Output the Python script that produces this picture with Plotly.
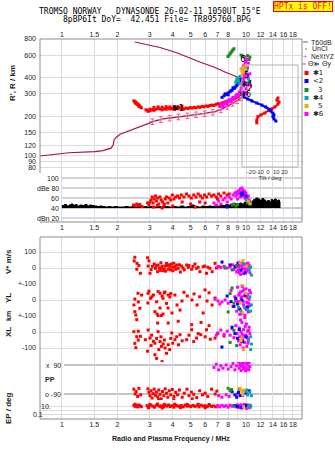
import numpy as np
import plotly.graph_objects as go

# ---------------- data ----------------
freq_ticks = [1, 1.5, 2, 3, 4, 5, 6, 7, 8, 9, 10, 12, 14, 16, 18]
freq_labels_outer = ["1", "1.5", "2", "3", "4", "5", "6", "7", "8", "", "10", "12", "14", "16", "18"]
freq_labels_mid = ["1", "1.5", "2", "3", "4", "5", "6", "7", "8", "9", "10", "12", "14", "16", "18"]
height_ticks = [80, 90, 100, 120, 150, 200, 300, 400, 600, 800]

# true-height profile (MHz, km): bottomside then topside
profile = [[0.76, 99], [1.09, 105], [1.51, 107], [1.67, 109], [1.85, 114], [1.90, 121], [1.92, 132],
           [1.97, 138], [2.07, 146], [2.20, 151], [2.43, 159], [2.82, 172], [3.24, 186], [3.63, 193],
           [4.11, 197], [4.66, 202], [5.28, 206], [5.99, 212], [6.79, 219], [7.41, 229], [7.98, 242],
           [8.51, 255], [9.06, 269], [9.52, 284], [9.89, 300], [10.27, 316], [10.6, 331], [10.7, 340],
           [10.64, 352], [10.27, 365], [9.40, 388], [8.72, 413], [7.69, 444], [6.79, 481], [5.62, 531],
           [4.96, 570], [4.20, 626], [3.41, 687], [2.49, 758]]
nextyz = [[3.1, 183], [3.45, 190], [3.85, 195], [4.3, 199], [4.8, 203], [5.35, 207], [5.95, 211],
          [6.6, 217], [7.3, 226], [7.9, 240], [8.45, 254], [8.95, 266], [9.4, 280]]

top_red = [[2.46, 265], [2.49, 262], [2.52, 258], [2.55, 254], [2.58, 250], [2.61, 246], [2.64, 242],
           [2.67, 238], [2.70, 234], [2.50, 255], [2.56, 248], [2.62, 240],
           [2.86, 226], [2.93, 224], [3.01, 222], [3.09, 226], [3.16, 224], [3.24, 228], [3.33, 232],
           [3.41, 229], [3.50, 226], [3.59, 230], [3.68, 228], [3.77, 233], [3.86, 229], [3.96, 231],
           [4.06, 228], [4.16, 232], [4.27, 230], [4.38, 234], [4.49, 231], [4.60, 229], [4.72, 233],
           [4.84, 231], [4.96, 235], [5.09, 233], [5.22, 236], [5.35, 234], [5.49, 238], [5.62, 236],
           [5.77, 240], [5.91, 238], [6.07, 242], [6.22, 240], [6.37, 244], [6.54, 246], [6.70, 244],
           [6.87, 249], [7.05, 252], [7.22, 250], [7.41, 255], [7.60, 258], [7.79, 262], [7.98, 265],
           [8.19, 268], [8.40, 272], [8.61, 276], [8.83, 281], [9.06, 286],
           [3.16, 236], [3.33, 238], [3.50, 237], [3.68, 239], [3.86, 238], [4.06, 240], [4.27, 239],
           [4.49, 241], [2.93, 220], [3.01, 228]]
top_blue = [[7.41, 282], [7.60, 290], [7.79, 298], [7.98, 305], [8.19, 312], [8.40, 320], [8.61, 330],
            [8.83, 345], [9.06, 360], [9.28, 380], [9.40, 400], [8.0, 295], [8.3, 318], [8.7, 335],
            [8.95, 352], [9.15, 372], [7.7, 300], [8.5, 335]]
top_mag = [[7.2, 240], [7.4, 245], [7.6, 250], [7.8, 256], [8.0, 262], [8.2, 268], [8.4, 274], [8.6, 282],
           [8.8, 290], [9.0, 298], [9.2, 308], [9.4, 318], [7.3, 250], [7.7, 258], [8.1, 270], [8.5, 282],
           [8.9, 296], [9.3, 312], [7.5, 238], [7.9, 250], [8.3, 262], [8.7, 276], [9.1, 290],
           [9.5, 340], [9.6, 360], [9.7, 380], [9.8, 400], [9.9, 420], [10.0, 440], [10.1, 460],
           [10.2, 480], [9.7, 500], [9.9, 520], [10.0, 540], [10.1, 560], [9.8, 580], [9.6, 420],
           [9.5, 390], [10.3, 400], [10.4, 370], [10.2, 350], [10.0, 330], [9.8, 310], [10.5, 430],
           [9.9, 470], [10.3, 520], [9.6, 470], [9.4, 330], [10.1, 300], [10.2, 420], [9.7, 440]]
top_teal = [[8.8, 370], [8.9, 385], [9.0, 400], [9.1, 380], [9.3, 410], [10.0, 450], [10.1, 470],
            [10.3, 395], [10.4, 375], [9.2, 360]]
top_orange = [[9.4, 470], [9.5, 450], [9.6, 480], [9.7, 440], [9.9, 470], [10.0, 500], [9.5, 420], [9.8, 455]]
top_green = [[7.98, 585], [8.1, 600], [8.2, 615], [8.3, 630], [8.4, 645], [8.5, 660], [8.6, 672],
             [9.4, 600], [9.6, 590], [10.2, 595], [10.5, 580], [10.4, 555]]
trace_labels = [[4.27, 231, "✱1"], [10.07, 410, "5"], [10.07, 352, "✱4"], [9.89, 294, "✱6"], [9.6, 550, "6"]]

# tilt inset (deg, km)
theta_x = [[-13.3, 179], [-13.3, 188], [-12, 200], [-8.4, 206], [-3.6, 213], [1.2, 223], [4.8, 229],
           [8.4, 238], [12, 250], [13.3, 260], [10.8, 269], [12, 279]]
theta_y = [[-28.9, 284], [-24.1, 274], [-19.3, 265], [-13.3, 255], [-7.2, 246], [-2.4, 238], [1.2, 229],
           [3.6, 221], [6, 213], [7.2, 206], [6, 200], [7.2, 192], [9.6, 185]]

# amplitude panel (MHz, dB)
noise = [[1.00, 45], [1.03, 47], [1.06, 44], [1.09, 46], [1.12, 48], [1.15, 45], [1.18, 47], [1.21, 44],
         [1.25, 46], [1.29, 45], [1.33, 47], [1.37, 44], [1.41, 46], [1.45, 45], [1.50, 44], [1.55, 43],
         [1.60, 44], [1.66, 43], [1.72, 42], [1.78, 43], [1.85, 42], [1.92, 43], [2.0, 42], [2.1, 42],
         [2.2, 43], [2.3, 42], [2.4, 43], [2.5, 42], [2.6, 43], [2.7, 42], [2.8, 43], [2.9, 42],
         [3.0, 43], [3.15, 42], [3.3, 43], [3.45, 42], [3.6, 43], [3.8, 42], [4.0, 43], [4.2, 42],
         [4.4, 44], [4.6, 42], [4.8, 43], [5.0, 46], [5.25, 43], [5.5, 42], [5.75, 44], [6.0, 43],
         [6.25, 44], [6.5, 43], [6.75, 45], [7.0, 44], [7.25, 46], [7.5, 45], [7.75, 47], [8.0, 46],
         [8.25, 48], [8.5, 47], [8.75, 49], [9.0, 48], [9.25, 50], [9.5, 48], [9.75, 51], [10.0, 50],
         [10.25, 52], [10.5, 50], [10.75, 54], [11.0, 57], [11.3, 60], [11.6, 58], [11.9, 55],
         [12.2, 59], [12.5, 56], [12.8, 53], [13.1, 55], [13.4, 52], [13.7, 57], [14.0, 55],
         [14.3, 58], [14.6, 54], [14.9, 56], [15.2, 53], [15.3, 40]]
db_red = [[2.45, 46], [2.5, 44], [2.55, 48], [2.6, 45], [2.65, 47], [2.72, 43], [2.92, 50], [2.97, 47],
          [3.01, 52], [3.05, 56], [3.09, 62], [3.13, 50], [3.17, 58], [3.22, 64], [3.26, 54], [3.31, 60],
          [3.36, 48], [3.41, 62], [3.46, 56], [3.52, 52], [3.58, 44], [3.64, 58], [3.70, 62], [3.76, 50],
          [3.83, 60], [3.90, 56], [3.98, 66], [4.06, 58], [4.15, 62], [4.25, 64], [4.35, 60], [4.45, 66],
          [4.6, 62], [4.75, 68], [4.9, 64], [5.05, 60], [5.2, 66], [5.35, 62], [5.5, 68], [5.65, 64],
          [5.8, 60], [5.95, 66], [6.1, 62], [6.3, 68], [6.5, 64], [6.7, 66], [6.9, 62], [7.1, 68],
          [7.3, 64], [7.6, 70], [7.9, 66], [8.1, 68], [3.3, 45], [3.6, 48], [4.0, 44], [4.5, 52],
          [5.0, 48], [5.6, 52], [6.0, 50], [7.0, 58], [3.15, 42], [3.5, 40], [5.3, 42]]
db_mag = [[6.7, 50], [6.9, 46], [7.1, 54], [7.3, 48], [7.5, 56], [7.7, 60], [7.9, 52], [8.1, 62], [8.3, 58],
          [8.5, 66], [8.7, 70], [8.8, 64], [8.9, 72], [9.0, 68], [9.1, 74], [9.2, 70], [9.3, 78], [9.4, 72],
          [9.5, 80], [9.6, 76], [9.7, 70], [9.8, 74], [9.9, 66], [10.0, 70], [10.1, 62], [10.2, 58],
          [10.3, 64], [10.4, 56], [10.5, 52], [9.45, 64], [9.65, 66], [9.85, 60], [9.0, 58], [9.3, 62],
          [10.0, 56]]
db_blue = [[7.9, 42], [9.4, 68], [9.5, 66], [9.6, 70], [10.0, 64], [10.3, 54]]
db_green = [[8.4, 46], [8.6, 48], [8.8, 44], [9.0, 47], [10.2, 50]]
db_teal = [[10.1, 56], [10.4, 52], [10.6, 50]]
db_orange = [[10.3, 54], [10.5, 48]]

# V* (m/s)
vs_red = [[2.49, 67], [2.47, 44], [2.56, 29], [2.62, 15], [2.55, -8], [2.67, -33], [2.92, 64], [2.97, 44],
          [2.94, 12], [3.01, -33], [3.17, 25], [3.22, -2], [3.31, -23], [3.33, 19], [3.45, 33], [3.47, -2],
          [3.54, -17], [3.63, 12], [3.70, 29], [3.78, -8], [3.86, 8], [3.94, 25], [4.01, -17], [4.11, 8],
          [4.20, 19], [4.28, -2], [4.47, 12], [4.62, -12], [4.76, 19], [4.86, 4], [5.07, -8], [5.28, 25],
          [5.39, -2], [5.62, -23], [5.85, 8], [6.10, -33], [6.37, -2], [6.55, -23], [6.79, 29], [3.10, 10],
          [3.25, 15], [3.38, 0], [3.50, 10], [3.60, -8], [3.72, 15], [3.84, 20], [3.90, -12], [4.00, 5],
          [4.15, -8], [4.35, 20], [4.55, 0], [4.90, 15], [5.15, 10], [5.5, 5], [5.95, 12], [6.2, 5],
          [6.9, 0], [7.1, 8], [3.05, -10], [3.42, -15], [3.66, -20], [4.05, 30], [4.4, -25]]
vs_mag = [[7.05, 8], [7.3, 4], [7.6, 10], [7.9, 0], [8.2, 6], [8.45, 20], [8.6, -10], [8.75, 12], [8.9, -25],
          [9.0, 28], [9.1, 5], [9.2, -30], [9.3, 18], [9.4, -15], [9.5, 30], [9.6, 0], [9.7, -35], [9.8, 22],
          [9.9, -8], [10.0, 10], [10.1, -20], [10.2, 26], [10.3, -5], [10.4, 15], [10.5, -30], [9.15, 35],
          [9.35, -40], [9.55, -5], [9.75, 25], [9.95, -22], [10.15, 8], [10.35, -12], [9.05, -15],
          [9.45, 12], [9.85, -28], [10.25, 30]]
vs_blue = [[7.41, 37], [8.19, 19], [8.72, 6], [9.40, -12], [9.89, -31], [9.1, 25]]
vs_orange = [[9.64, 46], [9.28, 31], [10.1, 12]]
vs_teal = [[10.7, -44], [10.4, -12], [9.77, 25], [10.6, 5]]
vs_green = [[7.69, 0], [8.4, -12], [8.9, 15]]

# YL (km)
yl_red = [[2.46, -31], [2.49, -73], [2.52, -94], [2.59, 42], [2.71, 31], [2.65, -52], [2.49, 6], [2.94, 42],
          [3.03, 11], [3.14, 31], [2.93, -19], [3.27, -11], [3.41, 42], [3.54, 11], [3.70, -21], [3.78, 31],
          [3.33, -100], [3.47, -98], [3.20, -73], [3.41, -50], [3.29, -88], [3.54, -88], [3.33, 53],
          [3.50, 25], [3.63, 50], [3.86, 19], [3.96, -81], [3.77, -50], [4.11, 31], [4.22, -31],
          [4.38, -63], [4.49, -6], [5.09, 0], [5.22, 38], [5.42, -31], [5.85, -81], [5.99, 63], [6.14, -6],
          [6.54, -31], [6.79, 12], [2.97, 55], [3.08, 20], [3.60, 45], [3.90, 40], [4.60, 48], [4.8, 25],
          [5.6, 20], [6.3, 45], [2.60, -12]]
yl_mag = [[7.05, -6], [7.4, -12], [7.7, 0], [8.0, -20], [8.3, 60], [8.5, -40], [8.7, 20], [8.9, -70],
          [9.0, 80], [9.1, -10], [9.2, 40], [9.3, -60], [9.4, 10], [9.5, -85], [9.6, 55], [9.7, -30],
          [9.8, 25], [9.9, -50], [10.0, 70], [10.1, -15], [10.2, 35], [10.3, -75], [10.4, 5], [10.5, -35],
          [10.6, 45], [9.25, -90], [9.55, 85], [9.85, -95], [10.05, -60], [9.45, 20], [9.75, 65],
          [10.15, 15], [8.8, -5], [9.15, 30], [10.35, -20], [6.8, 5], [7.2, -25], [9.35, 50], [9.65, -10],
          [9.95, 40], [10.25, -40], [10.45, 60]]
yl_blue = [[7.9, 25], [8.3, -10], [8.6, -40], [8.8, 10], [9.0, -25], [9.2, -55], [9.5, 0], [9.9, 30], [10.2, -45]]
yl_teal = [[9.1, -45], [9.4, -70], [9.8, -45], [10.2, -60], [10.6, -70], [10.7, -30], [10.5, 20]]
yl_green = [[8.4, 75], [8.0, -75], [8.6, -20], [8.2, 40]]
yl_orange = [[9.5, 95], [9.6, -80], [10.0, 40], [9.3, -20]]

# XL (km)
xl_red = [[2.46, 2], [2.55, -29], [2.49, -71], [2.52, -98], [2.60, -50], [2.60, 5], [2.67, -27], [2.84, -48],
          [2.94, 12], [3.01, -38], [3.07, -20], [3.14, -58], [3.27, -40], [3.33, 2], [3.41, -60],
          [3.47, -90], [3.63, -100], [3.78, -80], [3.95, -6], [4.11, -48], [4.38, -17], [4.76, -48],
          [5.07, 14], [5.39, -38], [5.68, -17], [6.10, 14], [6.79, -38], [7.6, -25], [2.92, -120],
          [3.20, -142], [3.27, -165], [3.50, -185], [3.70, -133], [2.55, 77], [3.31, 56], [3.78, 56],
          [4.28, 67], [5.07, 46], [5.7, 60], [6.3, 40], [3.2, -70], [3.36, -110], [3.55, -75], [3.6, -50],
          [3.85, -110], [4.0, -70], [4.2, -30], [4.5, -55], [4.9, -20], [5.2, -60], [6.4, -45],
          [3.05, -85], [3.45, -30], [3.9, -40], [4.3, -80], [5.5, -10], [6.0, -30], [7.0, -10]]
xl_mag = [[7.05, -6], [7.3, 12], [7.6, -15], [7.9, 5], [8.2, -20], [8.4, 20], [8.6, -35], [8.8, 40],
          [8.95, -10], [9.1, -55], [9.2, 25], [9.3, -80], [9.4, 0], [9.5, 60], [9.6, -40], [9.7, 15],
          [9.8, -65], [9.9, 35], [10.0, -20], [10.1, -90], [10.2, 5], [10.3, -45], [10.4, 30], [10.5, -10],
          [9.35, 75], [9.65, -100], [9.85, 90], [10.05, 50], [9.25, -30], [9.55, -15], [10.25, -70],
          [6.9, -20], [9.45, -60], [9.75, -25], [10.15, -35], [10.35, 10]]
xl_blue = [[7.4, -94], [8.4, 30], [8.7, -10], [9.0, -40], [9.2, 15], [9.6, -60], [10.0, -30]]
xl_teal = [[10.6, -30], [10.7, -75], [10.6, -110], [10.3, -55]]
xl_orange = [[9.5, -35], [9.7, -110], [9.4, -55]]
xl_green = [[8.2, -65], [8.6, 10], [8.9, -85]]

# PP (deg)
pp_red = [[2.46, -60], [2.50, -90], [2.53, -75], [2.58, -105], [2.62, -55], [2.68, -95], [2.93, -58],
          [2.97, -80], [3.01, -100], [3.05, -70], [3.09, -115], [3.13, -88], [3.17, -60], [3.22, -98],
          [3.26, -78], [3.31, -108], [3.36, -65], [3.41, -92], [3.46, -120], [3.52, -75], [3.58, -100],
          [3.64, -58], [3.70, -85], [3.76, -110], [3.83, -70], [3.90, -95], [3.98, -62], [4.06, -105],
          [4.15, -80], [4.25, -95], [4.35, -65], [4.5, -110], [4.62, -85], [4.78, -60], [4.9, -100],
          [5.05, -78], [5.2, -92], [5.4, -112], [5.6, -70], [5.8, -95], [6.0, -85], [6.2, -105],
          [6.5, -60], [6.8, -90], [6.95, -72], [4.05, -125], [3.35, -125], [5.1, -120]]
pp_mag = [[6.7, 75], [6.9, 95], [7.1, 60], [7.3, 85], [7.5, 70], [7.8, 90], [8.0, 65], [8.3, 80], [8.5, 100],
          [8.7, 60], [8.9, 85], [9.1, 110], [9.2, 70], [9.3, 95], [9.4, 55], [9.5, 105], [9.6, 80],
          [9.7, 65], [9.8, 100], [9.9, 75], [10.0, 115], [10.1, 60], [10.2, 90], [10.3, 70], [10.4, 105],
          [10.5, 80], [9.45, 85], [9.75, 110], [9.95, 55], [10.15, 100], [10.35, 60], [9.25, 90],
          [7.1, -100], [7.4, -110], [7.8, -95], [8.1, -105], [9.0, -90], [9.6, -100], [10.2, -95]]
pp_blue = [[8.4, -75], [8.7, -95], [8.9, -110], [9.1, -80], [9.3, -100], [10.0, -85], [10.4, -70]]
pp_green = [[8.0, -55], [8.2, -70], [8.35, -62], [9.2, -60]]
pp_orange = [[9.3, -55], [9.5, -75], [9.6, -95], [9.7, -65]]
pp_teal = [[9.9, -75], [10.2, -95], [10.5, -80], [10.7, -100], [10.1, -65]]

# EP (deg)
ep_red = [[2.46, 15], [2.50, 8], [2.54, 12], [2.58, 6], [2.62, 18], [2.66, 10], [2.70, 7], [2.90, 12],
          [2.97, 6], [3.04, 16], [3.11, 9], [3.18, 5], [3.25, 13], [3.32, 20], [3.40, 8], [3.48, 11],
          [3.56, 6], [3.64, 14], [3.72, 9], [3.80, 18], [3.88, 7], [3.97, 12], [4.06, 5], [4.15, 15],
          [4.25, 10], [4.35, 8], [4.45, 13], [4.56, 6], [4.67, 17], [4.78, 9], [4.90, 11], [5.02, 7],
          [5.15, 14], [5.28, 8], [5.42, 12], [5.56, 6], [5.70, 16], [5.85, 9], [6.00, 11], [6.16, 7],
          [6.32, 13], [6.50, 8], [6.68, 10], [6.86, 6], [7.05, 12], [2.5, 28], [3.0, 25], [3.3, 30],
          [3.6, 26], [4.1, 28], [4.8, 25], [5.5, 27], [6.3, 24], [2.95, 3.5], [3.5, 3.2], [4.4, 3.8],
          [6.0, 3.5]]
ep_mag = [[7.0, 10], [7.2, 6], [7.4, 14], [7.6, 8], [7.8, 12], [8.0, 5], [8.2, 16], [8.4, 9], [8.6, 12],
          [8.8, 6], [9.0, 18], [9.1, 4], [9.2, 11], [9.3, 7], [9.4, 20], [9.5, 3], [9.6, 13], [9.7, 8],
          [9.8, 25], [9.9, 5], [10.0, 15], [10.1, 2.5], [10.2, 10], [10.3, 6], [10.4, 14], [10.5, 4],
          [10.6, 9], [9.55, 12], [9.85, 10], [10.15, 18]]
ep_blue = [[9.0, 8], [9.4, 5], [10.0, 12], [8.7, 14]]
ep_teal = [[10.3, 6], [10.6, 10], [10.5, 16]]
ep_green = [[8.6, 10]]
ep_orange = [[9.7, 6]]

# ---------------- styling / layout helpers ----------------
W, H = 335, 451
ML, MR, MT, MB = 40, 33, 39, 32
PW, PH = W - ML - MR, H - MT - MB


def px2x(x):
    return (x - ML) / PW


def px2y(y):
    return (H - MB - y) / PH


RED, BLUE, GREEN, TEAL, ORANGE, MAG = "#ff0000", "#0000ff", "#1e8c1e", "#00a8a8", "#ffa500", "#ff00ff"
PROF, PINK = "#a8123c", "#e8609a"
GRID = "#dcdcdc"
FRAME = "#8c8c8c"
SANS = "Liberation Sans, Arial, sans-serif"
MONO = "DejaVu Sans Mono, Liberation Mono, monospace"
TF = dict(family=SANS, size=7, color="#222222")


def col(pairs, i):
    return [p[i] for p in pairs]


def pts(pairs, color, xa, ya, size=3):
    return go.Scatter(x=col(pairs, 0), y=col(pairs, 1), mode="markers",
                      marker=dict(symbol="square", size=size, color=color, line=dict(width=0)),
                      xaxis=xa, yaxis=ya, hoverinfo="skip", showlegend=False)


fig = go.Figure()

# top (height) panel
fig.add_trace(go.Scatter(x=col(profile, 0), y=col(profile, 1), mode="lines",
                         line=dict(color=PROF, width=1.2), xaxis="x", yaxis="y", showlegend=False))
fig.add_trace(go.Scatter(x=col(nextyz, 0), y=col(nextyz, 1), mode="markers",
                         marker=dict(symbol="line-ew", size=4, color=PINK, line=dict(width=1, color=PINK)),
                         error_y=dict(type="percent", value=5, color=PINK, thickness=1, width=2),
                         xaxis="x", yaxis="y", showlegend=False))
for data, c in [(top_red, RED), (top_mag, MAG), (top_blue, BLUE), (top_green, GREEN),
                (top_teal, TEAL), (top_orange, ORANGE)]:
    fig.add_trace(pts(data, c, "x", "y"))
fig.add_trace(go.Scatter(x=col(trace_labels, 0), y=col(trace_labels, 1), text=col(trace_labels, 2),
                         mode="text", textfont=dict(family="DejaVu Sans, sans-serif", size=8, color="black"),
                         xaxis="x", yaxis="y", showlegend=False, hoverinfo="skip"))

# inset tilt
fig.add_trace(go.Scatter(x=col(theta_x, 0), y=col(theta_x, 1), mode="lines+markers",
                         line=dict(color=RED, width=2), marker=dict(symbol="square", size=3, color=RED),
                         xaxis="x4", yaxis="y8", showlegend=False))
fig.add_trace(go.Scatter(x=col(theta_y, 0), y=col(theta_y, 1), mode="lines+markers",
                         line=dict(color=BLUE, width=2), marker=dict(symbol="square", size=3, color=BLUE),
                         xaxis="x4", yaxis="y8", showlegend=False))

# amplitude panel
fig.add_trace(go.Scatter(x=col(noise, 0), y=[40] * len(noise), mode="lines", line=dict(width=0, shape="hv"),
                         xaxis="x2", yaxis="y2", showlegend=False, hoverinfo="skip"))
fig.add_trace(go.Scatter(x=col(noise, 0), y=col(noise, 1), mode="lines", fill="tonexty", fillcolor="black",
                         line=dict(color="black", width=1, shape="hv"), xaxis="x2", yaxis="y2",
                         showlegend=False))
for data, c in [(db_red, RED), (db_mag, MAG), (db_blue, BLUE), (db_green, GREEN), (db_teal, TEAL),
                (db_orange, ORANGE)]:
    fig.add_trace(pts(data, c, "x2", "y2"))

# lower panels
groups = [
    ("y3", [vs_red, vs_mag, vs_blue, vs_green, vs_teal, vs_orange]),
    ("y4", [yl_red, yl_mag, yl_blue, yl_green, yl_teal, yl_orange]),
    ("y5", [xl_red, xl_mag, xl_blue, xl_green, xl_teal, xl_orange]),
    ("y6", [pp_red, pp_mag, pp_blue, pp_green, pp_teal, pp_orange]),
    ("y7", [ep_red, ep_mag, ep_blue, ep_green, ep_teal, ep_orange]),
]
for ya, sets in groups:
    for data, c in zip(sets, [RED, MAG, BLUE, GREEN, TEAL, ORANGE]):
        fig.add_trace(pts(data, c, "x3", ya))

xrange = [np.log10(0.76), np.log10(20.15)]
xcommon = dict(type="log", range=xrange, domain=[0, 1], showgrid=True, gridcolor=GRID, gridwidth=1,
               zeroline=False, showline=False, ticks="", tickfont=TF, tickvals=freq_ticks, tickangle=0)

fig.update_layout(
    width=W, height=H, autosize=False,
    margin=dict(l=ML, r=MR, t=MT, b=MB, pad=0),
    paper_bgcolor="white", plot_bgcolor="rgba(0,0,0,0)",
    showlegend=False,
    xaxis=dict(**xcommon, anchor="y", side="top", ticktext=freq_labels_outer),
    xaxis2=dict(**xcommon, anchor="y2", side="bottom", ticktext=freq_labels_mid),
    xaxis3=dict(**xcommon, anchor="y7", side="bottom", ticktext=freq_labels_outer),
    xaxis4=dict(domain=[px2x(242), px2x(298)], anchor="y8", range=[-31, 36], showgrid=False,
                zeroline=False, showline=False, ticks="", tickvals=[-20, -10, 0, 10, 20], tickangle=0,
                ticktext=["-20", "-10", "0", "10", "20"], tickfont=dict(family=SANS, size=6, color="#333"),
                title=dict(text="Tilt / deg", font=dict(family=SANS, size=6, color="#333"), standoff=0)),
    yaxis=dict(domain=[px2y(173), 1], type="log", range=[1.864, 2.903], anchor="x",
               tickvals=height_ticks, ticktext=[str(v) for v in height_ticks], ticks="",
               showgrid=True, gridcolor=GRID, zeroline=False, showline=False, tickfont=TF,
               ticklabelstandoff=3),
    yaxis2=dict(domain=[px2y(222), px2y(173)], range=[12, 110], anchor="x2", showgrid=False,
                showticklabels=False, zeroline=False, showline=False),
    yaxis3=dict(domain=[px2y(285), px2y(237)], range=[-106.25, 193.75], anchor="x3",
                tickvals=[100, 0, -100], ticktext=["100", "0", "+-100"], ticks="", tickfont=TF,
                showgrid=True, gridcolor=GRID, zeroline=False, showline=False, ticklabelstandoff=3),
    yaxis4=dict(domain=[px2y(317), px2y(284)], range=[-106.25, 100], anchor="x3",
                tickvals=[0, -100], ticktext=["0", "+-100"], ticks="", tickfont=TF,
                showgrid=True, gridcolor=GRID, zeroline=False, showline=False, ticklabelstandoff=3),
    yaxis5=dict(domain=[px2y(362), px2y(316)], range=[-187.5, 100], anchor="x3",
                tickvals=[0, -100], ticktext=["0", "-100"], ticks="", tickfont=TF,
                showgrid=True, gridcolor=GRID, zeroline=False, showline=False, ticklabelstandoff=3),
    yaxis6=dict(domain=[px2y(400), px2y(362)], range=[-127.2, 108.6], anchor="x3", showgrid=False,
                showticklabels=False, zeroline=False, showline=False),
    yaxis7=dict(domain=[0, px2y(400)], type="log", range=[-2.25, 2.5], anchor="x3",
                tickvals=[10, 1, 0.1], showticklabels=False, ticks="", showgrid=True, gridcolor=GRID,
                zeroline=False, showline=False),
    yaxis8=dict(domain=[px2y(167), px2y(65)], type="log", range=[1.9108, 2.7014], anchor="x4",
                visible=False),
)

shapes = []


def pline(x0, y0, x1, y1, color=FRAME, width=1):
    shapes.append(dict(type="line", xref="paper", yref="paper", x0=px2x(x0), y0=px2y(y0),
                       x1=px2x(x1), y1=px2y(y1), line=dict(color=color, width=width)))


# frames
pline(40, 39, 302, 39)
pline(302, 39, 302, 222)
pline(40, 222, 302, 222)
pline(40, 39, 40, 173)
shapes.append(dict(type="rect", xref="paper", yref="paper", x0=0, x1=1, y0=0, y1=px2y(237),
                   line=dict(color=FRAME, width=1)))
shapes.append(dict(type="rect", xref="paper", yref="paper", x0=px2x(242), x1=px2x(298),
                   y0=px2y(167), y1=px2y(65), line=dict(color="#b0b0b0", width=1)))
# amplitude reference lines
for v, c in [(100, "#a8a8a8"), (80, "#a8a8a8"), (60, "#a8a8a8"), (40, "#909090"), (20, "#a8b4dc")]:
    shapes.append(dict(type="line", xref="paper", yref="y2", x0=px2x(62), x1=1, y0=v, y1=v,
                       line=dict(color=c, width=1), layer="below"))
# polarisation lines
for v in [90, -90]:
    shapes.append(dict(type="line", xref="paper", yref="y6", x0=px2x(64), x1=1, y0=v, y1=v,
                       line=dict(color="#8a8a8a", width=1), layer="below"))

# legend glyphs
pline(303, 42, 308, 42, "#9a9a9a", 1.5)
shapes.append(dict(type="rect", xref="paper", yref="paper", x0=px2x(305.5), x1=px2x(306.5),
                   y0=px2y(49.5), y1=px2y(48.5), fillcolor="black", line=dict(width=0)))
pline(302, 64, 306, 64, PINK, 1.2)
pline(315, 64, 319, 64, BLUE, 1.2)
leg_sq = [(73, RED), (81, BLUE), (90, GREEN), (98, TEAL), (106, ORANGE), (114, MAG)]
for yy, c in leg_sq:
    shapes.append(dict(type="rect", xref="paper", yref="paper", x0=px2x(304.5), x1=px2x(308.5),
                       y0=px2y(yy + 2), y1=px2y(yy - 2), fillcolor=c, line=dict(width=0)))
fig.update_layout(shapes=shapes)

ann = []


def txt(text, x, y, size=7, anchor="left", color="#222222", family=SANS, angle=0, bold=False, **kw):
    t = "<b>" + text + "</b>" if bold else text
    d = dict(text=t, x=px2x(x), y=px2y(y), xref="paper", yref="paper", xanchor=anchor, yanchor="middle",
             showarrow=False, textangle=angle, font=dict(family=family, size=size, color=color))
    d.update(kw)
    ann.append(d)


# titles
txt("TROMSO\u00a0NORWAY\u00a0\u00a0\u00a0DYNASONDE\u00a026-02-11\u00a01050UT\u00a015°E", 150, 12, size=8,
    anchor="center", family=MONO, color="black")
txt("8pBP6It\u00a0DoY=\u00a0\u00a042.451\u00a0File=\u00a0TR895760.BPG", 157, 20, size=8, anchor="center",
    family=MONO, color="black")
txt("HPTx\u00a0is\u00a0OFF!", 302.5, 7, size=8, anchor="center", family=MONO, color="#ff0000",
    bgcolor="#ffff00", bordercolor="#ff0000", borderwidth=1, borderpad=0)

# axis titles
txt("R', R / km", 12, 83, size=8, anchor="center", angle=-90, bold=True)
txt("V* m/s", 8, 262, size=8, anchor="center", angle=-90, bold=True)
txt("YL", 8, 298, size=8, anchor="center", angle=-90, bold=True)
txt("km", 8, 316, size=7, anchor="center", angle=-90, bold=True)
txt("XL", 8, 332, size=8, anchor="center", angle=-90, bold=True)
txt("EP / deg", 8, 408, size=8, anchor="center", angle=-90, bold=True)
txt("PP", 43, 379, anchor="left", bold=True)
txt("Radio and Plasma Frequency / MHz", 171, 439, anchor="center", bold=True)

# inner labels
for v, lab in [(100, "100"), (80, "dBe 80"), (60, "60"), (40, "40"), (20, "dBn 20")]:
    ann.append(dict(text=lab, x=px2x(61), y=v, xref="paper", yref="y2", xanchor="right", yanchor="middle",
                    showarrow=False, font=TF))
for v, lab in [(90, "x\u00a0\u00a090"), (-90, "o\u00a0-90")]:
    ann.append(dict(text=lab, x=px2x(63), y=v, xref="paper", yref="y6", xanchor="right", yanchor="middle",
                    showarrow=False, font=TF))
txt("10.", 53, 406, anchor="right")
txt("0.1", 45, 414, anchor="right")

# legend texts
txt("T60dB", 309, 42)
txt("UnCl", 310, 49)
txt("+", 305.5, 56, anchor="center", color=PINK, size=8)
txt("NeXtYZ", 308.5, 56, size=6.5)
txt("Θx", 306.5, 64)
txt("Θy", 319.5, 64)
for (yy, c), lab, xx in zip(leg_sq, ["✱1", "<2", "3", "✱4", "5", "✱6"], [311, 311, 316, 311, 316, 311]):
    ann.append(dict(text=lab, x=px2x(xx), y=px2y(yy), xref="paper", yref="paper", xanchor="left",
                    yanchor="middle", showarrow=False,
                    font=dict(family="DejaVu Sans, sans-serif", size=7, color="#222")))

fig.update_layout(annotations=ann)
fig.write_html("out.html")
